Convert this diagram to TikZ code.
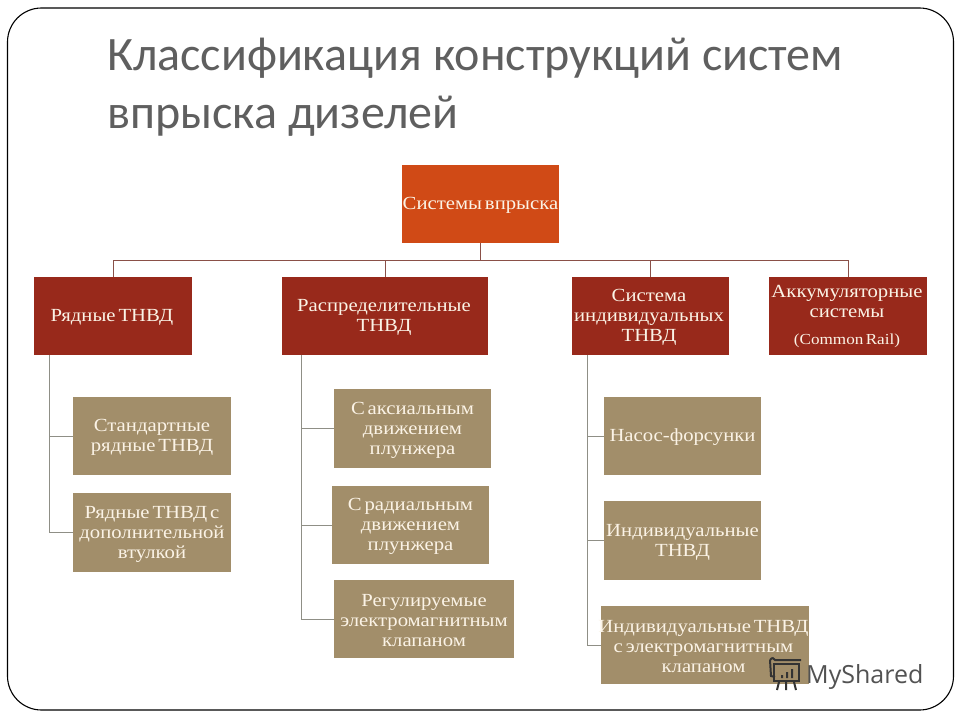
\documentclass[tikz,border=0pt]{standalone}
\usepackage{fontspec}
\setmainfont[FakeStretch=1.12,WordSpace=0.55]{Liberation Serif}
\newfontfamily\titlefont{Carlito}
\newfontfamily\markfont{Open Sans}
\definecolor{rootc}{HTML}{D04A16}
\definecolor{redc}{HTML}{98291B}
\definecolor{tanc}{HTML}{A28E6A}
\definecolor{linec}{HTML}{8F8F86}
\definecolor{linered}{HTML}{8A5048}
\definecolor{titlec}{HTML}{5F5F5F}
\definecolor{txtc}{HTML}{FBF3E6}
\newcommand\boxlab[4][0]{\node[labeltext] (#2t) at ([xshift=#1pt,yshift=-#3pt]#2.center) {#4};}
\tikzset{
  x=1pt,y=-1pt,
  boxbase/.style={inner sep=0pt,anchor=center},
  labeltext/.style={inner sep=0pt,align=center,text=txtc,font=\fontsize{18.5}{20}\selectfont},
  rootbox/.style={boxbase,fill=rootc},
  redbox/.style={boxbase,fill=redc},
  tanbox/.style={boxbase,fill=tanc},
  toplink/.style={draw=linered,line width=1pt},
  sublink/.style={draw=linec,line width=1pt},
  titletext/.style={anchor=west,text=titlec,font=\titlefont\fontsize{48}{48}\selectfont,inner sep=0pt},
}
\begin{document}
\begin{tikzpicture}
\useasboundingbox (0,0) rectangle (960,720);
\fill[white] (0,0) rectangle (960,720);
\draw[black,line width=1.1pt,rounded corners=34pt] (7.5,8) rectangle (953.5,710);
\node[titletext] (t1) at (107,58) {Классификация конструкций систем};
\node[titletext] (t2) at (107,116) {впрыска дизелей};

\node[rootbox,minimum width=157pt,minimum height=78pt] (root) at (480.5,204) {};
\node[redbox,minimum width=158pt,minimum height=78pt] (a) at (113,316) {};
\node[redbox,minimum width=206pt,minimum height=78pt] (b) at (385,316) {};
\node[redbox,minimum width=157pt,minimum height=78pt] (c) at (650.5,316) {};
\node[redbox,minimum width=158pt,minimum height=78pt] (d) at (848,316) {};
\node[tanbox,minimum width=158pt,minimum height=78pt] (a1) at (152,436) {};
\node[tanbox,minimum width=158pt,minimum height=79pt] (a2) at (152,532.5) {};
\node[tanbox,minimum width=157pt,minimum height=79pt] (b1) at (412.5,428.5) {};
\node[tanbox,minimum width=157pt,minimum height=78pt] (b2) at (410.5,525) {};
\node[tanbox,minimum width=180pt,minimum height=78pt] (b3) at (424,619) {};
\node[tanbox,minimum width=157pt,minimum height=78pt] (c1) at (682.5,436) {};
\node[tanbox,minimum width=157pt,minimum height=79pt] (c2) at (682.5,540.5) {};
\node[tanbox,minimum width=208pt,minimum height=78pt] (c3) at (705,645) {};

\boxlab{root}{1}{Системы впрыска}
\boxlab[-1]{a}{1.5}{Рядные ТНВД}
\boxlab[-1]{b}{1}{Распределительные\\ТНВД}
\boxlab[-1.5]{c}{1.5}{Система\\индивидуальных\\ТНВД}
\node[labeltext] (d1) at (847,301) {Аккумуляторные\\системы};
\node[labeltext,font=\fontsize{15.3}{16}\selectfont] (d2) at (847,341) {(Common Rail)};
\boxlab{a1}{1.5}{Стандартные\\рядные ТНВД}
\boxlab{a2}{1.5}{Рядные ТНВД с\\дополнительной\\втулкой}
\boxlab{b1}{1.5}{С аксиальным\\движением\\плунжера}
\boxlab{b2}{1.5}{С радиальным\\движением\\плунжера}
\boxlab{b3}{1.5}{Регулируемые\\электромагнитным\\клапаном}
\boxlab{c1}{1.5}{Насос-форсунки}
\boxlab{c2}{1.5}{Индивидуальные\\ТНВД}
\boxlab[-1.5]{c3}{1.5}{Индивидуальные ТНВД\\с электромагнитным\\клапаном}

\coordinate (bus) at (480.5,260);
\coordinate (ta) at (49,355);
\coordinate (tb) at (301,355);
\coordinate (tc) at (587,355);

\draw[toplink] (root.south) -- (bus);
\draw[toplink] (bus) -| (a.north);
\draw[toplink] (bus) -| (b.north);
\draw[toplink] (bus) -| (c.north);
\draw[toplink] (bus) -| (d.north);

\draw[sublink] (ta) |- (a1.west);
\draw[sublink] (ta) |- (a2.west);
\draw[sublink] (tb) |- (b1.west);
\draw[sublink] (tb) |- (b2.west);
\draw[sublink] (tb) |- (b3.west);
\draw[sublink] (tc) |- (c1.west);
\draw[sublink] (tc) |- (c2.west);
\draw[sublink] (tc) |- (c3.west);

% watermark
\begin{scope}[draw=black!80,line width=2pt]
\draw (774,664) rectangle (799,681);
\draw (770,660) .. controls (772,657) and (774,658) .. (775,660) -- (801,660);
\draw (770,660) -- (771,676) -- (775,677);
\fill[black!80] (781,675) rectangle (783,678) (786,672) rectangle (788,678) (791,669) rectangle (793,678);
\draw (779,682) -- (777,690) (786,682) -- (786,690) (794,682) -- (796,690);
\end{scope}
\node[inner sep=0pt,anchor=west,text=black!68,font=\markfont\fontsize{25}{25}\selectfont] (mark) at (806,677) {MyShared};
\end{tikzpicture}
\end{document}
